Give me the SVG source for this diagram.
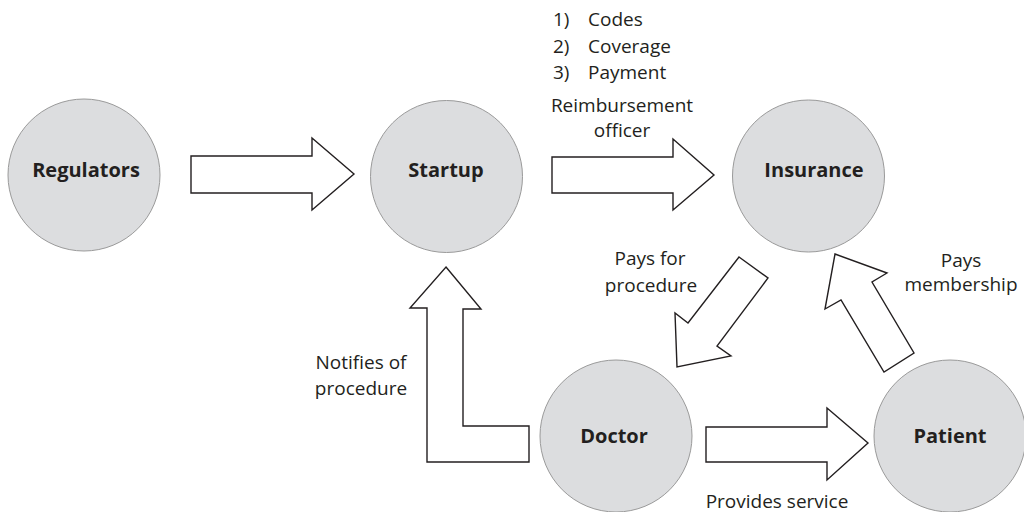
<svg xmlns="http://www.w3.org/2000/svg" width="1024" height="512" viewBox="0 0 1024 512">
<style>
.node circle{fill:#dcdddf;stroke:#9a9a9a;stroke-width:1}
.lbl{font-family:"Open Sans","Liberation Sans",sans-serif;font-weight:bold;font-size:20px;fill:#231f20;text-anchor:middle}
.t{font-family:"Open Sans","Liberation Sans",sans-serif;font-size:19px;fill:#231f20}
.m{text-anchor:middle}
.arrow{fill:#fff;stroke:#231f20;stroke-width:1.4;stroke-linejoin:miter}
</style>
<rect width="1024" height="512" fill="#fff"/>
<g id="connectors">
<polygon class="arrow" points="191,156 312,156 312,138 354,174 312,210 312,193 191,193"/>
<polygon class="arrow" points="552,157 673,157 673,139 714,175 673,210 673,193 552,193"/>
<polygon class="arrow" points="706,427 827,427 827,408 868,443 827,480 827,462 706,462"/>
<polygon class="arrow" points="446,267 481,309 463,309 463,426 529,426 529,462 427,462 427,308 410,308"/>
<polygon class="arrow" points="739,257 768,278 717,346 731,356 677,367 675,313 688,323"/>
<polygon class="arrow" points="835,254 887,273 872,282 914,353 884,372 841,300 825,309"/>
</g>
<g id="regulators" class="node"><circle cx="84" cy="175" r="76"/><text class="lbl" x="86" y="177">Regulators</text></g>
<g id="startup" class="node"><circle cx="446.5" cy="176.5" r="76"/><text class="lbl" x="446" y="177">Startup</text></g>
<g id="insurance" class="node"><circle cx="808.5" cy="176" r="76"/><text class="lbl" x="814" y="177">Insurance</text></g>
<g id="doctor" class="node"><circle cx="616" cy="436" r="76"/><text class="lbl" x="614" y="443">Doctor</text></g>
<g id="patient" class="node"><circle cx="950" cy="436" r="76"/><text class="lbl" x="950" y="443">Patient</text></g>
<g id="labels">
<text class="t" x="553" y="26">1)</text><text class="t" x="588" y="26">Codes</text>
<text class="t" x="553" y="52.5">2)</text><text class="t" x="588" y="52.5">Coverage</text>
<text class="t" x="553" y="79">3)</text><text class="t" x="588" y="79">Payment</text>
<text class="t m" x="622" y="112">Reimbursement</text>
<text class="t m" x="622" y="137">officer</text>
<text class="t m" x="650" y="265">Pays for</text>
<text class="t m" x="651" y="292">procedure</text>
<text class="t m" x="961" y="267">Pays</text>
<text class="t m" x="961" y="291">membership</text>
<text class="t m" x="361" y="369">Notifies of</text>
<text class="t m" x="361" y="395">procedure</text>
<text class="t m" x="777" y="508">Provides service</text>
</g>
</svg>
